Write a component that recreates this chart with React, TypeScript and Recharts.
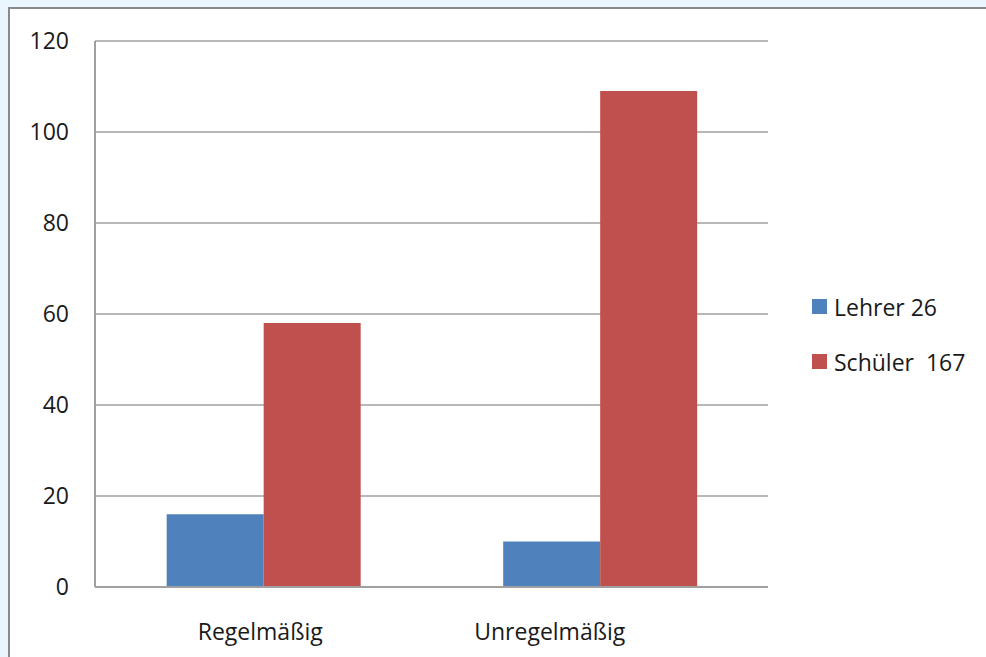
import React from 'react';
import {
  BarChart,
  Bar,
  XAxis,
  YAxis,
  CartesianGrid,
  Legend,
} from 'recharts';

const categories = ['Regelmäßig', 'Unregelmäßig'];
const lehrer = [16, 10];
const schueler = [58, 109];
const yTicks = [0, 20, 40, 60, 80, 100, 120];
const seriesNames = ['Lehrer 26', 'Schüler  167'];

const BLUE = '#4f81bd';
const RED = '#c0504d';
const GRID = '#a0a0a0';
const TEXT = '#1a1a1a';
const FONT = '"Open Sans", sans-serif';

const data = categories.map((name, i) => ({
  name,
  lehrer: lehrer[i],
  schueler: schueler[i],
}));

// the original's second category label sits left of its band centre
const CategoryTick = (props: any) => {
  const { x, y, payload, index } = props;
  const dx = index === 1 ? -50 : -3;
  return (
    <text
      x={x + dx}
      y={y + 31}
      textAnchor="middle"
      dominantBaseline="hanging"
      fontFamily={FONT}
      fontSize={23}
      fill={TEXT}
    >
      {payload.value}
    </text>
  );
};

const LegendBox: React.FC = () => (
  <div style={{ fontFamily: FONT, fontSize: 23, color: TEXT }}>
    {[BLUE, RED].map((c, i) => (
      <div
        key={i}
        style={{ display: 'flex', alignItems: 'center', height: 55 }}
      >
        <span
          style={{
            display: 'inline-block',
            width: 15,
            height: 15,
            background: c,
            marginRight: 7,
          }}
        />
        <span style={{ whiteSpace: 'pre' }}>{seriesNames[i]}</span>
      </div>
    ))}
  </div>
);

const App: React.FC = () => {
  return (
    <div
      style={{
        position: 'fixed',
        left: 0,
        top: 0,
        width: 986,
        height: 657,
        background: '#eaf6fd',
        overflow: 'hidden',
      }}
    >
      <div
        style={{
          position: 'absolute',
          left: 8,
          top: 7,
          width: 1000,
          height: 700,
          background: '#fff',
          borderLeft: '2px solid #8a8a8a',
          borderTop: '2px solid #8a8a8a',
        }}
      />
      <div style={{ position: 'absolute', left: 0, top: 0 }}>
        <BarChart
          width={986}
          height={657}
          data={data}
          margin={{ top: 41, right: 218, bottom: 40, left: 35 }}
          barCategoryGap="21.3%"
          barGap={0}
        >
          <CartesianGrid vertical={false} stroke={GRID} strokeWidth={1.5} />
          <XAxis
            dataKey="name"
            height={30}
            tickLine={false}
            tickSize={0}
            axisLine={{ stroke: GRID, strokeWidth: 2 }}
            tick={<CategoryTick />}
          />
          <YAxis
            width={60}
            domain={[0, 120]}
            ticks={yTicks}
            interval={0}
            tickLine={false}
            tickSize={0}
            tickMargin={26}
            axisLine={{ stroke: GRID, strokeWidth: 2 }}
            tick={{ fontFamily: FONT, fontSize: 23, fill: TEXT }}
          />
          <Legend
            layout="horizontal"
            verticalAlign="middle"
            content={<LegendBox />}
            wrapperStyle={{ left: 812, top: 279, width: 174 }}
          />
          <Bar dataKey="lehrer" name={seriesNames[0]} fill={BLUE} isAnimationActive={false} />
          <Bar dataKey="schueler" name={seriesNames[1]} fill={RED} isAnimationActive={false} />
        </BarChart>
      </div>
    </div>
  );
};

export default App;
